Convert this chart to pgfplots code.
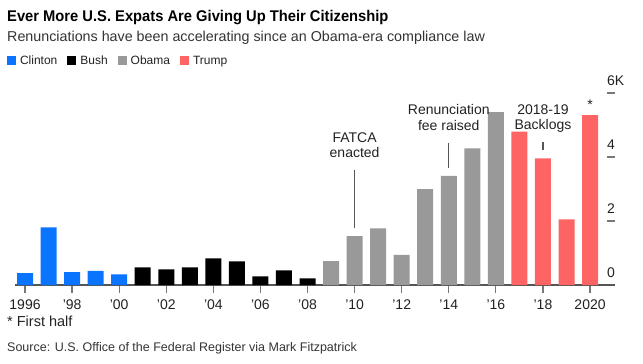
\documentclass[border=0pt]{standalone}
\usepackage{fontspec}
\setmainfont{Liberation Sans}
\usepackage{pgfplots}
\pgfplotsset{compat=1.18}
\definecolor{cblue}{HTML}{0A74FF}
\definecolor{cgray}{HTML}{999999}
\definecolor{cred}{HTML}{FF6464}
\definecolor{cblack}{HTML}{000000}
\definecolor{c222}{HTML}{222222}
\definecolor{c333}{HTML}{333333}
\definecolor{c555}{HTML}{555555}
\definecolor{c777}{HTML}{777777}
\begin{document}
\begin{tikzpicture}
\useasboundingbox (0,0) rectangle (643pt,-364pt);
\node[anchor=base west, inner sep=0pt, font=\fontsize{15.5}{18}\selectfont\bfseries] at (7pt,-21pt) {\scalebox{0.95}[1]{Ever More U.S. Expats Are Giving Up Their Citizenship}};
\node[anchor=base west, inner sep=0pt, text=c333, font=\fontsize{14.3}{17}\selectfont] at (7pt,-41.7pt) {Renunciations have been accelerating since an Obama-era compliance law};
\node[anchor=base west, inner sep=0pt, text=c222, font=\fontsize{14.5}{17}\selectfont] at (7pt,-326pt) {* First half};
\node[anchor=base west, inner sep=0pt, text=c333, font=\fontsize{12.5}{15}\selectfont] at (7pt,-351pt) {Source: U.S. Office of the Federal Register via Mark Fitzpatrick};
\begin{axis}[
  at={(15pt,-285pt)}, anchor=south west,
  scale only axis, width=600pt, height=192pt,
  xmin=1995.575, xmax=2021.06, ymin=0, ymax=6,
  axis x line*=bottom, axis y line*=right,
  y axis line style={draw=none},
  x axis line style={draw=c555, line width=1.2pt},
  xtick={1996,1998,...,2020},
  xticklabels={1996,'98,'00,'02,'04,'06,'08,'10,'12,'14,'16,'18,2020},
  ytick={0,2,4,6}, yticklabels={0,2,4,6K},
  xtick align=outside, ytick align=inside,
  major tick length=8pt,
  tick style={draw=c777, line width=1.2pt},
  tick label style={font=\fontsize{14}{16}\selectfont, text=c222},
  xticklabel style={yshift=-3pt},
  yticklabel style={anchor=base west, inner sep=0pt, xshift=-8pt, yshift=8pt},
  clip=false,
  legend columns=-1,
  legend style={at={(axis description cs:-0.0133,1.1667)}, anchor=west,
    draw=none, fill=none, inner sep=0pt, outer sep=0pt,
    nodes={inner sep=0pt},
    font=\fontsize{12}{14}\selectfont, text=c222,
    /tikz/every odd column/.append style={column sep=4pt},
    /tikz/every even column/.append style={column sep=10pt}},
]
\addplot[ybar, bar width=16pt, bar shift=0pt, fill=cblue, draw=none,
  legend image code/.code={\fill[cblue] (0pt,-4.5pt) rectangle (9pt,4.5pt);}]
  coordinates {(1996,0.37) (1997,1.80) (1998,0.40) (1999,0.44) (2000,0.33)};
\addlegendentry{Clinton}
\addplot[ybar, bar width=16pt, bar shift=0pt, fill=cblack, draw=none,
  legend image code/.code={\fill[cblack] (0pt,-4.5pt) rectangle (9pt,4.5pt);}]
  coordinates {(2001,0.55) (2002,0.49) (2003,0.55) (2004,0.83) (2005,0.74) (2006,0.27) (2007,0.46) (2008,0.21)};
\addlegendentry{Bush}
\addplot[ybar, bar width=16pt, bar shift=0pt, fill=cgray, draw=none,
  legend image code/.code={\fill[cgray] (0pt,-4.5pt) rectangle (9pt,4.5pt);}]
  coordinates {(2009,0.75) (2010,1.53) (2011,1.77) (2012,0.94) (2013,3.00) (2014,3.41) (2015,4.27) (2016,5.40)};
\addlegendentry{Obama}
\addplot[ybar, bar width=16pt, bar shift=0pt, fill=cred, draw=none,
  legend image code/.code={\fill[cred] (0pt,-4.5pt) rectangle (9pt,4.5pt);}]
  coordinates {(2017,4.79) (2018,3.96) (2019,2.05) (2020,5.31)};
\addlegendentry{Trump}
\draw[c555, line width=1.2pt] (axis cs:2010,1.78) -- (axis cs:2010,3.59);
\draw[c555, line width=1.2pt] (axis cs:2014,3.66) -- (axis cs:2014,4.44);
\draw[c555, line width=1.2pt] (axis cs:2018,4.22) -- (axis cs:2018,4.47);
\begin{scope}[every node/.style={anchor=base, inner sep=0pt, text=c222, font=\fontsize{14}{16}\selectfont}]
\node at (axis cs:2010,4.46) {FATCA};
\node at (axis cs:2010,3.99) {enacted};
\node at (axis cs:2014,5.32) {Renunciation};
\node at (axis cs:2014,4.82) {fee raised};
\node at (axis cs:2018,5.34) {2018-19};
\node at (axis cs:2018,4.875) {Backlogs};
\node at (axis cs:2020,5.47) {*};
\end{scope}
\end{axis}
\end{tikzpicture}
\end{document}
